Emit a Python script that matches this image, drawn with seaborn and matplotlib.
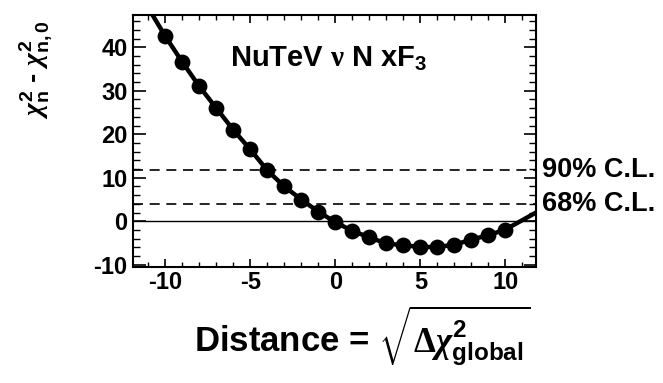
import numpy as np
import pandas as pd
import matplotlib
matplotlib.use("Agg")
import matplotlib.pyplot as plt
import seaborn as sns
from matplotlib.ticker import MultipleLocator

# Data
dist = [-10, -9, -8, -7, -6, -5, -4, -3, -2, -1, 0, 1, 2, 3, 4, 5, 6, 7, 8, 9, 10]
dchi2 = [42.5, 36.6, 31.0, 26.0, 21.0, 16.5, 11.7, 8.0, 5.0, 2.2, -0.2, -2.2, -3.7,
         -5.1, -5.5, -5.9, -5.9, -5.4, -4.2, -3.2, -1.9]
# curve continues past the points to the frame
curve_x = [-10.75] + dist + [11.8]
curve_y = [47.4] + dchi2 + [2.0]
cl_levels = [11.8, 4.0]
cl_labels = ["90% C.L.", "68% C.L."]
xticks = [-10, -5, 0, 5, 10]
yticks = [-10, 0, 10, 20, 30, 40]

sns.set_theme(style="white")
plt.rcParams['font.family'] = ['Liberation Sans', 'DejaVu Sans']
plt.rcParams['font.weight'] = 'bold'
plt.rcParams['text.color'] = 'black'
plt.rcParams['xtick.color'] = 'black'
plt.rcParams['ytick.color'] = 'black'
plt.rcParams['axes.labelcolor'] = 'black'
plt.rcParams['mathtext.fontset'] = 'custom'
plt.rcParams['mathtext.rm'] = 'Liberation Serif'
plt.rcParams['mathtext.bf'] = 'Liberation Sans:bold'
plt.rcParams['mathtext.it'] = 'Liberation Serif:italic'

fig = plt.figure(figsize=(6.63, 3.83), dpi=100)
ax = fig.add_axes([0.2006, 0.3029, 0.6078, 0.6579])

ax.axhline(0, color="black", lw=1.0)
for lv in cl_levels:
    ax.axhline(lv, color="black", lw=1.2, ls=(0, (6, 4)))

df_curve = pd.DataFrame({"x": curve_x, "y": curve_y})
sns.lineplot(data=df_curve, x="x", y="y", ax=ax, color="black", lw=3.2, sort=False)
df = pd.DataFrame({"x": dist, "y": dchi2})
sns.scatterplot(data=df, x="x", y="y", ax=ax, color="black", s=130, edgecolor="black",
                linewidth=0, zorder=5)

ax.set_xlim(-11.9, 11.8)
ax.set_ylim(-10.5, 47.4)
ax.set_xticks(xticks)
ax.set_yticks(yticks)
ax.xaxis.set_minor_locator(MultipleLocator(1))
ax.yaxis.set_minor_locator(MultipleLocator(2))
ax.tick_params(axis="both", which="both", direction="in", top=True, right=True,
               bottom=True, left=True, color="black", labelcolor="black")
ax.tick_params(axis="x", which="major", length=6, width=1.2, labelsize=17, pad=3)
ax.tick_params(axis="x", which="minor", length=3.5, width=1.0)
ax.tick_params(axis="y", which="major", length=9, width=1.2, labelsize=17, pad=4)
ax.tick_params(axis="y", which="minor", length=5, width=1.0)
ax.set_xticklabels([f"{t}" for t in xticks], fontweight="bold")
ax.set_yticklabels([f"{t}" for t in yticks], fontweight="bold")
for sp in ax.spines.values():
    sp.set_linewidth(1.5)
    sp.set_color("black")

ax.set_xlabel("")
ax.set_ylabel("")

ax.text(0.24, 0.794, r"NuTeV $\mathrm{\nu}$ N xF$_{\mathbf{3}}$", transform=ax.transAxes,
        fontsize=21, fontweight="bold", ha="left", va="baseline", color="black")

for lv, lab in zip(cl_levels, cl_labels):
    ax.text(1.015, lv, lab, transform=ax.get_yaxis_transform(), fontsize=19.5,
            fontweight="bold", ha="left", va="center", color="black")

fig.text(0.054, 0.817, r"$\chi^{\mathbf{2}}_{\mathbf{n}}$ - $\chi^{\mathbf{2}}_{\mathbf{n,0}}$",
         rotation=90, fontsize=20, fontweight="bold", ha="center", va="center",
         color="black")

fig.text(0.546, 0.123, r"Distance = $\sqrt{\mathrm{\Delta}\chi^{\mathbf{2}}_{\mathbf{global}}}$",
         fontsize=25, fontweight="bold", ha="center", va="center", color="black")

fig.savefig("out.png", dpi=100)
